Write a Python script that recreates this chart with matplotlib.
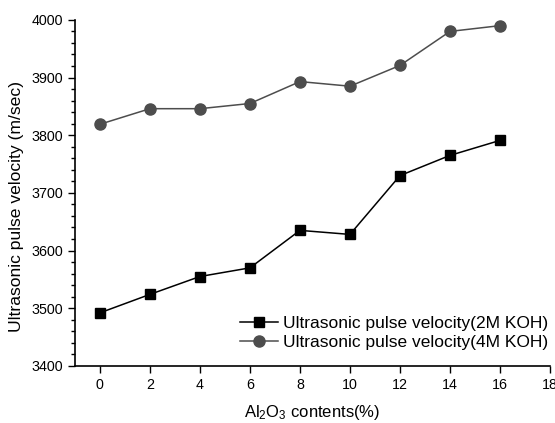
import matplotlib
matplotlib.use("Agg")
import matplotlib.pyplot as plt
from matplotlib.ticker import MultipleLocator

plt.rcParams['font.family'] = ['Liberation Sans', 'DejaVu Sans']
plt.rcParams['mathtext.fontset'] = 'custom'
plt.rcParams['mathtext.rm'] = 'Liberation Sans'
plt.rcParams['mathtext.it'] = 'Liberation Sans'

# Al2O3 content (%)
al2o3 = [0, 2, 4, 6, 8, 10, 12, 14, 16]
upv_2m = [3492, 3524, 3555, 3570, 3635, 3628, 3730, 3765, 3791]
upv_4m = [3819, 3846, 3846, 3855, 3893, 3885, 3921, 3980, 3990]

fig = plt.figure(figsize=(5.55, 4.23), dpi=100)
ax = fig.add_axes([0.135, 0.135, 0.856, 0.818])

ax.plot(al2o3, upv_2m, color='black', lw=1.1, marker='s', ms=7,
        label='Ultrasonic pulse velocity(2M KOH)')
ax.plot(al2o3, upv_4m, color='#4d4d4d', lw=1.1, marker='o', ms=8,
        label='Ultrasonic pulse velocity(4M KOH)')

ax.set_xlim(-1, 18)
ax.set_ylim(3400, 4000)
ax.set_xticks(range(0, 19, 2))
ax.yaxis.set_major_locator(MultipleLocator(100))
ax.yaxis.set_minor_locator(MultipleLocator(20))
ax.tick_params(axis='both', which='major', labelsize=10.3, length=5, width=1,
               direction='out')
ax.tick_params(axis='y', which='minor', length=3, width=1, direction='out')

for s in ['top', 'right']:
    ax.spines[s].set_visible(False)
for s in ['left', 'bottom']:
    ax.spines[s].set_linewidth(1.2)

ax.set_xlabel('Al$_2$O$_3$ contents(%)', fontsize=12, labelpad=8)
ax.set_ylabel('Ultrasonic pulse velocity (m/sec)', fontsize=12.6)
ax.yaxis.set_label_coords(-0.108, 0.46)

ax.legend(loc='lower right', bbox_to_anchor=(1.0, 0.04), frameon=False,
          fontsize=12.5, handlelength=2.2, handletextpad=0.3,
          labelspacing=0.25, borderaxespad=0.0, borderpad=0.1)

fig.savefig('out.png', dpi=100)
